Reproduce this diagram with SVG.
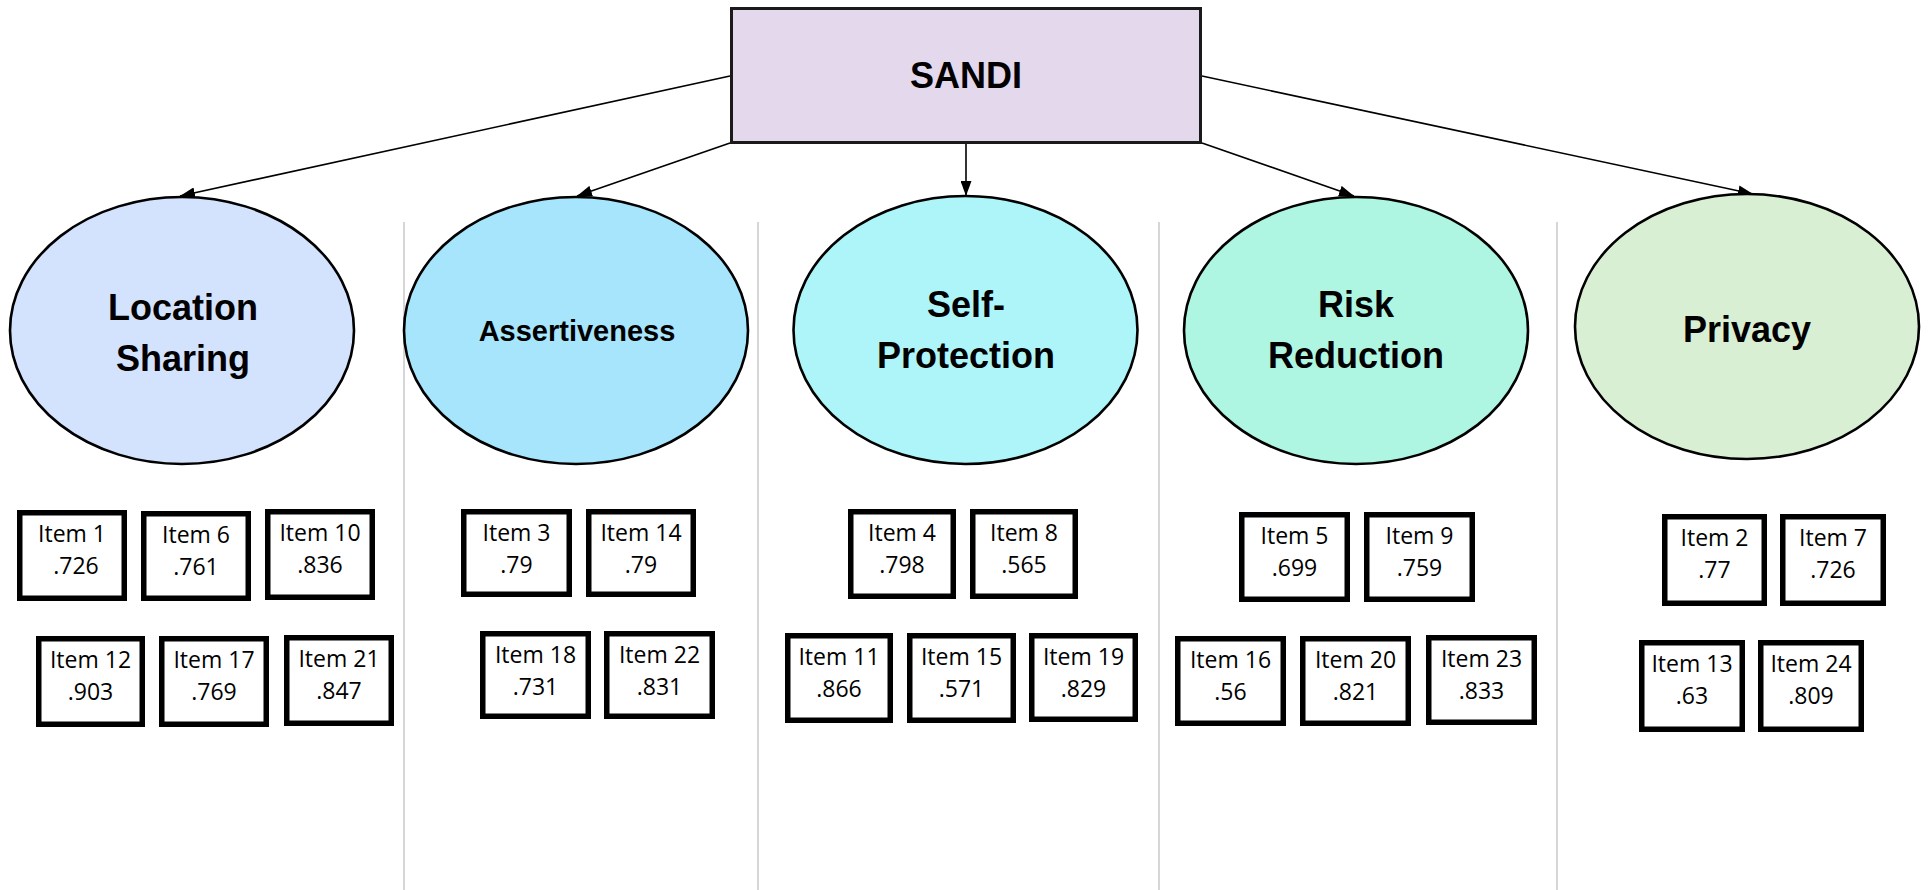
<svg xmlns="http://www.w3.org/2000/svg" width="1931" height="890" viewBox="0 0 1931 890">
<style>
.bg{fill:#ffffff}
.sep{stroke:#c8c8c8;stroke-width:1.5}
.conn{stroke:#000;stroke-width:1.6;fill:none}
.lat{stroke:#000;stroke-width:2.6}
.lbl{font-family:"Liberation Sans",Arial,sans-serif;font-weight:bold;fill:#000;text-anchor:middle}
.item rect{fill:#fff;stroke:#000;stroke-width:5.5}
.item text{font-family:"Open Sans","Liberation Sans",sans-serif;font-size:23px;fill:#000;text-anchor:middle}
</style>
<defs>
<marker id="ah" viewBox="0 0 15 11" refX="15" refY="5.5" markerWidth="15" markerHeight="11" markerUnits="userSpaceOnUse" orient="auto">
<path d="M0,0 L15,5.5 L0,11 z" fill="#000"/>
</marker>
</defs>
<rect class="bg" x="0" y="0" width="1931" height="890"/>
<g id="separators">
<line class="sep" x1="404" y1="222" x2="404" y2="890"/>
<line class="sep" x1="758" y1="222" x2="758" y2="890"/>
<line class="sep" x1="1159" y1="222" x2="1159" y2="890"/>
<line class="sep" x1="1557" y1="222" x2="1557" y2="890"/>
</g>
<g id="connectors">
<line class="conn" x1="730" y1="76" x2="180" y2="196" marker-end="url(#ah)"/>
<line class="conn" x1="730" y1="143" x2="577" y2="196" marker-end="url(#ah)"/>
<line class="conn" x1="966" y1="143" x2="966" y2="196" marker-end="url(#ah)"/>
<line class="conn" x1="1202" y1="143" x2="1354" y2="196" marker-end="url(#ah)"/>
<line class="conn" x1="1202" y1="76" x2="1753" y2="194" marker-end="url(#ah)"/>
</g>
<g id="sandi">
<rect x="731.5" y="8.5" width="469" height="134" fill="#e4d8ec" stroke="#1a1a1a" stroke-width="3"/>
<text class="lbl" x="966" y="88" font-size="36">SANDI</text>
</g>
<g id="location-sharing">
<ellipse class="lat" cx="182" cy="330.5" rx="172" ry="133.5" fill="#d3e2fd"/>
<text class="lbl" x="183" y="320" font-size="36">Location</text>
<text class="lbl" x="183" y="371" font-size="36">Sharing</text>
</g>
<g id="assertiveness">
<ellipse class="lat" cx="576" cy="330.5" rx="172" ry="133.5" fill="#a6e5fc"/>
<text class="lbl" x="577" y="341" font-size="29">Assertiveness</text>
</g>
<g id="self-protection">
<ellipse class="lat" cx="965.5" cy="330" rx="172" ry="134" fill="#adf5f9"/>
<text class="lbl" x="966" y="317" font-size="36">Self-</text>
<text class="lbl" x="966" y="368" font-size="36">Protection</text>
</g>
<g id="risk-reduction">
<ellipse class="lat" cx="1356" cy="330.5" rx="172" ry="133.5" fill="#aef5e2"/>
<text class="lbl" x="1356" y="317" font-size="36">Risk</text>
<text class="lbl" x="1356" y="368" font-size="36">Reduction</text>
</g>
<g id="privacy">
<ellipse class="lat" cx="1747" cy="326.5" rx="172" ry="132.5" fill="#d9efd3"/>
<text class="lbl" x="1747" y="342" font-size="36">Privacy</text>
</g>
<g id="item1" class="item"><rect x="19.75" y="512.75" width="104.5" height="85.5"/><text x="72" y="542">Item 1</text><text x="76" y="573.5">.726</text></g>
<g id="item6" class="item"><rect x="143.75" y="513.75" width="104.5" height="84.5"/><text x="196" y="543">Item 6</text><text x="196" y="574.5">.761</text></g>
<g id="item10" class="item"><rect x="267.75" y="511.75" width="104.5" height="85.5"/><text x="320" y="541">Item 10</text><text x="320" y="572.5">.836</text></g>
<g id="item12" class="item"><rect x="38.75" y="638.75" width="103.5" height="85.5"/><text x="90.5" y="668">Item 12</text><text x="90.5" y="699.5">.903</text></g>
<g id="item17" class="item"><rect x="161.75" y="638.75" width="104.5" height="85.5"/><text x="214" y="668">Item 17</text><text x="214" y="699.5">.769</text></g>
<g id="item21" class="item"><rect x="286.75" y="637.75" width="104.5" height="85.5"/><text x="339" y="667">Item 21</text><text x="339" y="698.5">.847</text></g>
<g id="item3" class="item"><rect x="463.75" y="511.75" width="105.5" height="82.5"/><text x="516.5" y="541">Item 3</text><text x="516.5" y="572.5">.79</text></g>
<g id="item14" class="item"><rect x="588.75" y="511.75" width="104.5" height="82.5"/><text x="641" y="541">Item 14</text><text x="641" y="572.5">.79</text></g>
<g id="item18" class="item"><rect x="482.75" y="633.75" width="105.5" height="82.5"/><text x="535.5" y="663">Item 18</text><text x="535.5" y="694.5">.731</text></g>
<g id="item22" class="item"><rect x="606.75" y="633.75" width="105.5" height="82.5"/><text x="659.5" y="663">Item 22</text><text x="659.5" y="694.5">.831</text></g>
<g id="item4" class="item"><rect x="850.75" y="511.75" width="102.5" height="84.5"/><text x="902" y="541">Item 4</text><text x="902" y="572.5">.798</text></g>
<g id="item8" class="item"><rect x="972.75" y="511.75" width="102.5" height="84.5"/><text x="1024" y="541">Item 8</text><text x="1024" y="572.5">.565</text></g>
<g id="item11" class="item"><rect x="787.75" y="635.75" width="102.5" height="84.5"/><text x="839" y="665">Item 11</text><text x="839" y="696.5">.866</text></g>
<g id="item15" class="item"><rect x="909.75" y="635.75" width="103.5" height="84.5"/><text x="961.5" y="665">Item 15</text><text x="961.5" y="696.5">.571</text></g>
<g id="item19" class="item"><rect x="1031.75" y="635.75" width="103.5" height="83.5"/><text x="1083.5" y="665">Item 19</text><text x="1083.5" y="696.5">.829</text></g>
<g id="item5" class="item"><rect x="1241.75" y="514.75" width="105.5" height="84.5"/><text x="1294.5" y="544">Item 5</text><text x="1294.5" y="575.5">.699</text></g>
<g id="item9" class="item"><rect x="1366.75" y="514.75" width="105.5" height="84.5"/><text x="1419.5" y="544">Item 9</text><text x="1419.5" y="575.5">.759</text></g>
<g id="item16" class="item"><rect x="1177.75" y="638.75" width="105.5" height="84.5"/><text x="1230.5" y="668">Item 16</text><text x="1230.5" y="699.5">.56</text></g>
<g id="item20" class="item"><rect x="1302.75" y="638.75" width="105.5" height="84.5"/><text x="1355.5" y="668">Item 20</text><text x="1355.5" y="699.5">.821</text></g>
<g id="item23" class="item"><rect x="1428.75" y="637.75" width="105.5" height="84.5"/><text x="1481.5" y="667">Item 23</text><text x="1481.5" y="698.5">.833</text></g>
<g id="item2" class="item"><rect x="1664.75" y="516.75" width="99.5" height="86.5"/><text x="1714.5" y="546">Item 2</text><text x="1714.5" y="577.5">.77</text></g>
<g id="item7" class="item"><rect x="1782.75" y="516.75" width="100.5" height="86.5"/><text x="1833" y="546">Item 7</text><text x="1833" y="577.5">.726</text></g>
<g id="item13" class="item"><rect x="1641.75" y="642.75" width="100.5" height="86.5"/><text x="1692" y="672">Item 13</text><text x="1692" y="703.5">.63</text></g>
<g id="item24" class="item"><rect x="1760.75" y="642.75" width="100.5" height="86.5"/><text x="1811" y="672">Item 24</text><text x="1811" y="703.5">.809</text></g>
</svg>
